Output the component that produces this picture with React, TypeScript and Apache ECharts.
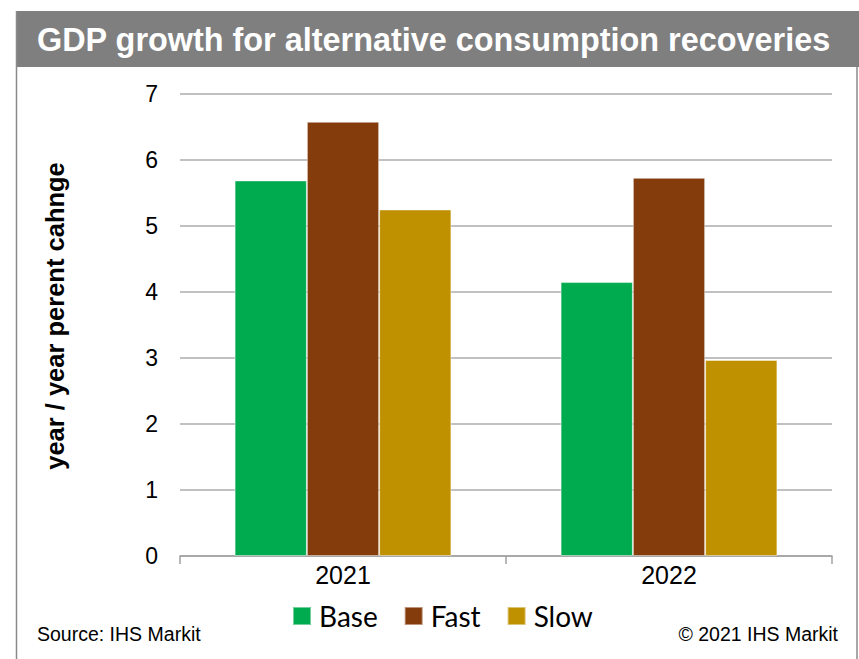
import React, { useEffect, useRef } from "react";
import * as echarts from "echarts";

const categories = ["2021", "2022"];
const baseValues = [5.69, 4.15];
const fastValues = [6.58, 5.73];
const slowValues = [5.25, 2.97];
const seriesNames = ["Base", "Fast", "Slow"];
const seriesColors = ["#00AA4E", "#843C0C", "#BF9000"];
const titleText = "GDP growth for alternative consumption recoveries";
const yAxisName = "year / year perent cahnge";
const sourceText = "Source: IHS Markit";
const copyrightText = "© 2021 IHS Markit";

export default function App() {
  const ref = useRef<HTMLDivElement>(null);
  useEffect(() => {
    if (!ref.current) return;
    const chart = echarts.init(ref.current, undefined, { renderer: "svg" });
    const values = [baseValues, fastValues, slowValues];
    const arial = "'Liberation Sans', Arial, sans-serif";
    chart.setOption({
      animation: false,
      backgroundColor: "#ffffff",
      grid: { left: 180, right: 27, top: 94, bottom: 103, containLabel: false },
      legend: {
        data: seriesNames,
        left: 287,
        top: 597,
        icon: "rect",
        itemWidth: 18,
        itemHeight: 18,
        itemGap: 26,
        textStyle: { fontFamily: "Lato, sans-serif", fontSize: 28, color: "#000", padding: [0, 0, 0, 3] },
      },
      xAxis: {
        type: "category",
        data: categories,
        axisLine: { lineStyle: { color: "#a0a0a0", width: 1.5 } },
        axisTick: { show: true, length: 8, lineStyle: { color: "#a0a0a0", width: 1.5 } },
        axisLabel: { fontFamily: arial, fontSize: 25, color: "#000", margin: 6 },
      },
      yAxis: {
        type: "value",
        min: 0,
        max: 7,
        interval: 1,
        axisLine: { show: false },
        axisTick: { show: false },
        axisLabel: { fontFamily: arial, fontSize: 23, color: "#000", margin: 22 },
        splitLine: { lineStyle: { color: "#adadad", width: 1.5 } },
      },
      series: seriesNames.map((name, i) => ({
        name,
        type: "bar",
        data: values[i],
        barGap: "0%",
        barCategoryGap: "33.5%",
        itemStyle: {
          color: seriesColors[i],
          borderColor: "rgba(255,255,255,0.45)",
          borderWidth: 1,
        },
      })),
      graphic: [
        {
          type: "rect",
          shape: { x: 16, y: 11, width: 843, height: 56 },
          style: { fill: "#7f7f7f" },
          silent: true,
        },
        {
          type: "text",
          x: 37,
          y: 40,
          style: {
            text: titleText,
            fill: "#ffffff",
            fontFamily: arial,
            fontWeight: "bold",
            fontSize: 32.4,
            verticalAlign: "middle",
            align: "left",
          },
        },
        {
          type: "line",
          shape: { x1: 16.5, y1: 11, x2: 16.5, y2: 659 },
          style: { stroke: "#8a8a8a", lineWidth: 1.5 },
        },
        {
          type: "line",
          shape: { x1: 857, y1: 67, x2: 857, y2: 659 },
          style: { stroke: "#8a8a8a", lineWidth: 1.5 },
        },
        {
          type: "text",
          x: 55,
          y: 316,
          rotation: Math.PI / 2,
          style: {
            text: yAxisName,
            fill: "#000",
            fontFamily: arial,
            fontWeight: "bold",
            fontSize: 25.5,
            align: "center",
            verticalAlign: "middle",
          },
        },
        {
          type: "text",
          x: 37,
          y: 634,
          style: {
            text: sourceText,
            fill: "#000",
            fontFamily: arial,
            fontSize: 19.5,
            align: "left",
            verticalAlign: "middle",
          },
        },
        {
          type: "text",
          x: 838,
          y: 634,
          style: {
            text: copyrightText,
            fill: "#000",
            fontFamily: arial,
            fontSize: 19.5,
            align: "right",
            verticalAlign: "middle",
          },
        },
      ],
    });
    return () => chart.dispose();
  }, []);
  return (
    <div
      ref={ref}
      style={{ position: "fixed", left: 0, top: 0, width: 859, height: 659 }}
    />
  );
}
